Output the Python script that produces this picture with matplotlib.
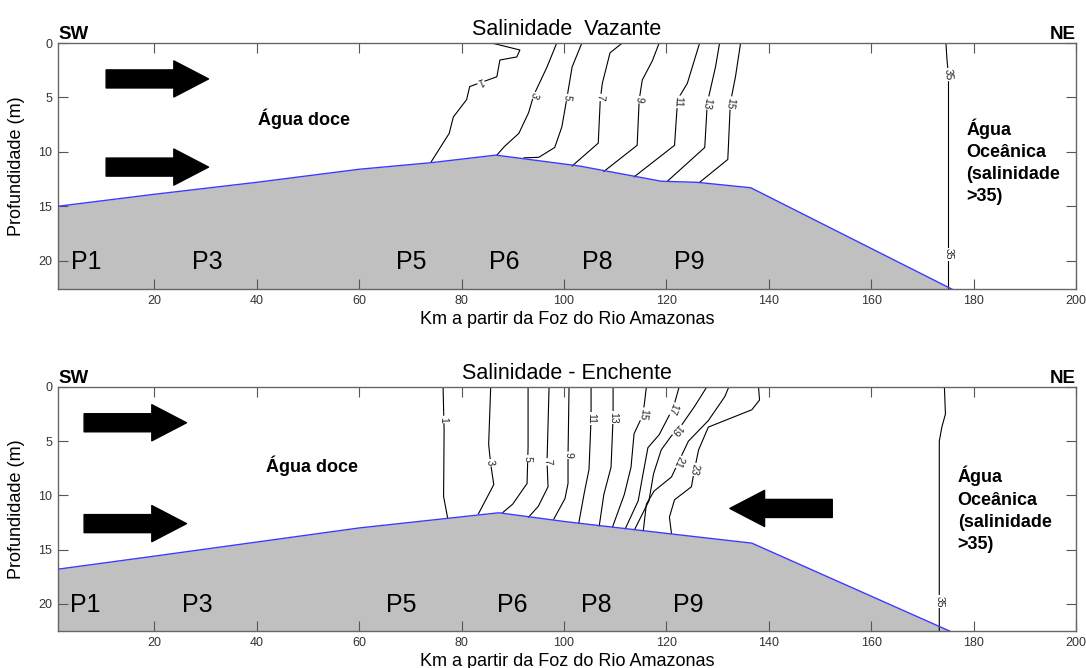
import matplotlib
matplotlib.use('Agg')
import numpy as np
import matplotlib.pyplot as plt

plt.rcParams['font.family'] = ['Liberation Sans', 'DejaVu Sans']

# bottom profile (km from river mouth, depth in m)
vaz_bot_x = [1.2, 20, 40, 60, 74, 86.7, 103, 119, 126, 136.5, 175.7, 200]
vaz_bot_d = [15.0, 13.9, 12.8, 11.6, 11.0, 10.3, 11.3, 12.7, 12.8, 13.3, 22.6, 28.4]
enc_bot_x = [1.2, 20, 40, 60, 87.3, 100, 120, 136.7, 175.3, 200]
enc_bot_d = [16.8, 15.6, 14.3, 13.0, 11.6, 12.4, 13.5, 14.4, 22.5, 28.0]

# isohalines: level -> (km, depth)
vaz_lines = {
    1: ([85.9, 91.4, 90.8, 87.5, 86.9, 81.6, 81.0, 78.4, 77.6, 74.1],
        [0, 0.64, 1.28, 1.56, 3.1, 4.0, 5.2, 6.8, 8.3, 10.9]),
    3: ([98.6, 96.7, 94.1, 93.1, 91.2, 88.4, 86.9],
        [0, 2.2, 4.8, 6.4, 8.3, 9.5, 10.3]),
    5: ([103.5, 101.6, 100.6, 99.6, 98.2, 95.1, 92.2],
        [0, 2.2, 5.0, 7.7, 9.6, 10.5, 10.55]),
    7: ([111.4, 109.0, 107.5, 107.1, 106.7, 101.6],
        [0, 0.9, 3.7, 5.2, 9.2, 11.3]),
    9: ([118.6, 117.3, 115.3, 114.7, 114.3, 107.8],
        [0, 1.6, 3.4, 5.2, 9.4, 11.8]),
    11: ([126.5, 124.1, 122.2, 121.6, 113.7],
         [0, 3.7, 5.2, 9.4, 12.3]),
    13: ([130.4, 129.6, 128.0, 127.5, 120.2],
         [0, 2.2, 5.5, 9.6, 12.7]),
    15: ([134.5, 133.5, 132.5, 132.0, 126.5],
         [0, 3.1, 5.5, 10.7, 12.8]),
    35: ([174.6, 174.8, 175.1, 175.1],
         [0, 1.5, 3.0, 22.6]),
}
vaz_labels = {
    1: [(83.7, 3.5)], 3: [(94.1, 4.8)], 5: [(100.6, 5.0)], 7: [(107.1, 5.0)],
    9: [(114.7, 5.2)], 11: [(122.2, 5.4)], 13: [(128.0, 5.5)],
    15: [(132.5, 5.5)], 35: [(175.1, 2.9), (175.1, 19.4)],
}

enc_lines = {
    1: ([76.4, 76.6, 76.5, 77.3], [0, 4.0, 10.1, 12.1]),
    3: ([85.7, 85.3, 85.7, 86.3, 83.3], [0, 5.3, 7.1, 9.0, 11.7]),
    5: ([93.0, 93.0, 92.8, 90.0, 88.0], [0, 5.5, 8.9, 10.8, 11.6]),
    7: ([97.1, 96.7, 96.9, 95.0, 93.1], [0, 6.9, 9.2, 11.0, 12.0]),
    9: ([101.0, 100.8, 100.8, 100.2, 98.0], [0, 6.3, 8.9, 10.3, 12.2]),
    11: ([105.3, 105.3, 104.9, 104.0, 102.9], [0, 2.9, 7.6, 9.7, 12.55]),
    13: ([109.6, 109.6, 109.2, 107.8, 106.9], [0, 2.8, 7.4, 9.9, 12.8]),
    15: ([116.1, 115.7, 115.3, 113.7, 113.1, 111.8, 109.5],
         [0, 1.6, 2.7, 4.3, 7.4, 9.9, 12.9]),
    17: ([122.5, 121.6, 120.8, 118.6, 116.4, 115.3, 114.5, 112.0],
         [0, 1.5, 2.4, 4.4, 5.6, 8.4, 10.5, 13.05]),
    19: ([127.9, 125.5, 123.0, 121.0, 119.0, 117.5, 116.6, 113.8],
         [0, 1.8, 3.5, 4.5, 5.8, 8.0, 10.5, 13.15]),
    21: ([132.2, 131.4, 128.2, 124.3, 122.4, 121.0, 117.6, 116.1, 115.5],
         [0, 0.9, 3.1, 5.0, 6.9, 8.3, 9.6, 10.8, 13.25]),
    23: ([138.0, 138.2, 136.7, 128.2, 126.3, 125.5, 124.9, 121.6, 120.6, 121.0],
         [0, 1.2, 2.1, 3.7, 5.8, 7.6, 9.2, 10.4, 12.0, 13.5]),
    35: ([174.3, 174.5, 173.8, 173.3, 173.3], [0, 2.5, 3.7, 5.0, 22.5]),
}
enc_labels = {
    1: [(76.5, 3.0)], 3: [(85.5, 7.0)], 5: [(92.9, 6.6)], 7: [(96.8, 6.9)],
    9: [(100.8, 6.3)], 11: [(105.3, 2.9)], 13: [(109.6, 2.8)],
    15: [(115.5, 2.5)], 17: [(121.2, 2.0)], 19: [(122.0, 3.9)],
    21: [(122.4, 6.9)], 23: [(125.5, 7.6)], 35: [(173.3, 19.8)],
}

stations = ['P1', 'P3', 'P5', 'P6', 'P8', 'P9']
vaz_station_x = [6.7, 30.4, 70.2, 88.4, 106.5, 124.5]
enc_station_x = [6.5, 28.4, 68.2, 90.0, 106.3, 124.3]

# flow arrows: (tail km, tail depth, head km, head depth)
vaz_arrows = [(10.6, 3.3, 30.6, 3.3), (10.6, 11.4, 30.6, 11.4)]
enc_arrows = [(6.3, 3.3, 26.3, 3.3), (6.3, 12.6, 26.3, 12.6),
              (152.4, 11.2, 132.4, 11.2)]


def label_angle(ax, xs, ds, xl, dl):
    pts = ax.transData.transform(np.column_stack([xs, ds]))
    p = ax.transData.transform((xl, dl))
    # project onto each segment and take the closest one
    best, ang = 1e9, -90
    for a, b in zip(pts[:-1], pts[1:]):
        v = b - a
        t = np.clip(np.dot(p - a, v) / max(np.dot(v, v), 1e-9), 0, 1)
        dist = np.hypot(*(a + t * v - p))
        if dist < best:
            best = dist
            ang = np.degrees(np.arctan2(v[1], v[0]))
    return ang


def draw_panel(ax, title, bot_x, bot_d, lines, labels, st_x, arrows, ymax, ocean_xy):
    ax.set_xlim(1.2, 200)
    ax.set_ylim(ymax, 0)
    ax.fill_between(bot_x, bot_d, 40, color='#c0c0c0', zorder=1, lw=0)
    ax.plot(bot_x, bot_d, color='#3b3bff', lw=1.0, zorder=4)

    for lev, (xs, ds) in lines.items():
        ax.plot(xs, ds, color='k', lw=0.8, zorder=2)
    for lev, pts in labels.items():
        xs, ds = lines[lev]
        for xl, dl in pts:
            ang = label_angle(ax, xs, ds, xl, dl)
            ax.text(xl, dl, str(lev), fontsize=7.5, rotation=ang,
                    rotation_mode='anchor', ha='center', va='center',
                    zorder=3, color='#222222',
                    bbox=dict(fc='white', ec='none', pad=0.6))

    for name, x in zip(stations, st_x):
        ax.text(x, 20.1, name, fontsize=18, ha='center', va='center', zorder=5)

    for x0, y0, x1, y1 in arrows:
        ax.annotate('', xy=(x1, y1), xytext=(x0, y0), zorder=5,
                    arrowprops=dict(arrowstyle='simple,head_length=2.5,head_width=2.6,tail_width=1.3',
                                    fc='k', ec='k', shrinkA=0, shrinkB=0, mutation_scale=10))

    ax.text(ocean_xy[0], ocean_xy[1], 'Água\nOceânica\n(salinidade\n>35)',
            fontsize=13, fontweight='bold', ha='left', va='center', linespacing=1.4)

    ax.set_title(title, fontsize=15.5, pad=6)
    ax.text(0, 1.018, 'SW', transform=ax.transAxes, fontsize=13.5,
            fontweight='bold', ha='left', va='baseline')
    ax.text(1.0, 1.018, 'NE', transform=ax.transAxes, fontsize=13.5,
            fontweight='bold', ha='right', va='baseline')

    ax.set_xticks(range(20, 201, 20))
    ax.set_yticks([0, 5, 10, 15, 20])
    ax.tick_params(direction='in', top=True, right=True, length=7,
                   color='#555555', labelcolor='#333333', labelsize=9, pad=4)
    for s in ax.spines.values():
        s.set_color('#666666')
        s.set_linewidth(1.0)
    ax.set_xlabel('Km a partir da Foz do Rio Amazonas', fontsize=13, labelpad=3)
    ax.set_ylabel('Profundidade (m)', fontsize=13, labelpad=10)


fig = plt.figure(figsize=(10.86, 6.68), dpi=100)
ax1 = fig.add_axes([0.0534, 0.5674, 0.9374, 0.3682])
ax2 = fig.add_axes([0.0534, 0.0554, 0.9374, 0.3653])

draw_panel(ax1, 'Salinidade  Vazante', vaz_bot_x, vaz_bot_d, vaz_lines,
           vaz_labels, vaz_station_x, vaz_arrows, 22.6, (178.6, 10.9))
ax1.text(49.2, 7.0, 'Água doce', fontsize=13, fontweight='bold',
         ha='center', va='center')

draw_panel(ax2, 'Salinidade - Enchente', enc_bot_x, enc_bot_d, enc_lines,
           enc_labels, enc_station_x, enc_arrows, 22.5, (176.9, 11.3))
ax2.text(50.8, 7.3, 'Água doce', fontsize=13, fontweight='bold',
         ha='center', va='center')

plt.savefig('out.png', dpi=100)
